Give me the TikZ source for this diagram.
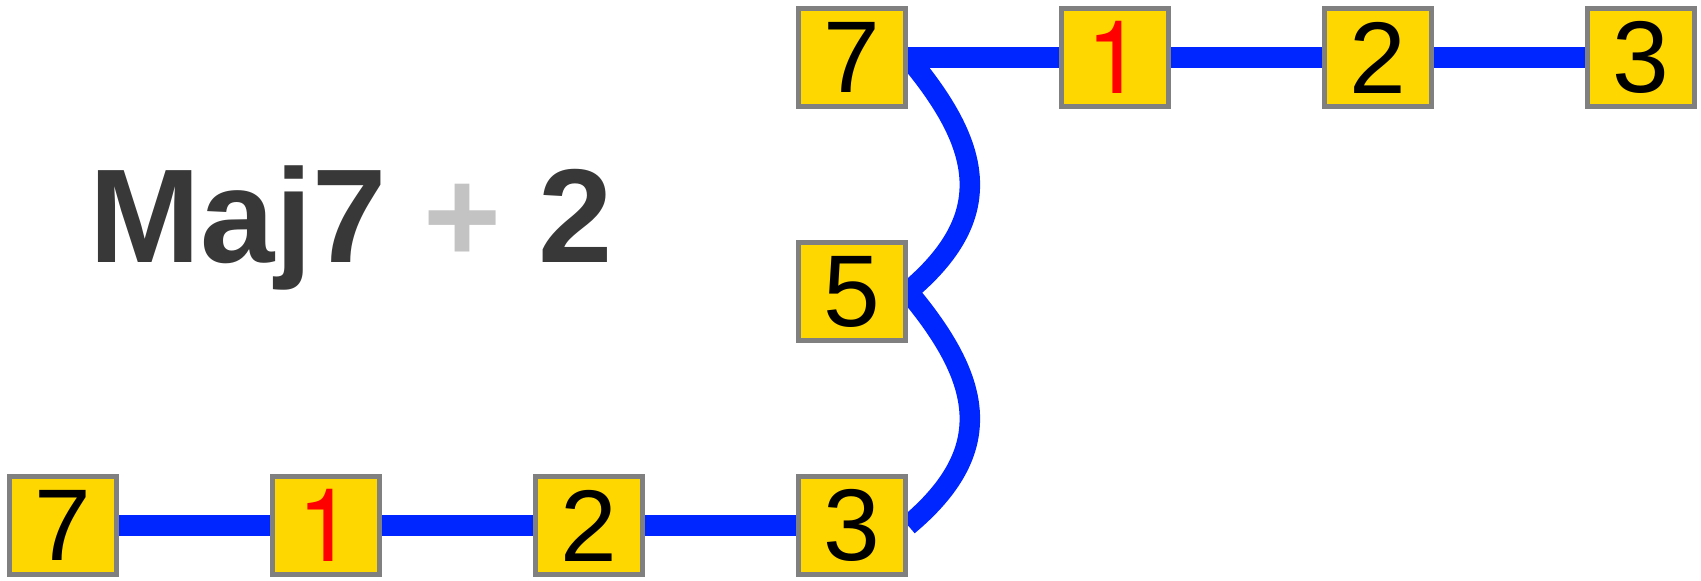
\documentclass[tikz,border=0pt]{standalone}
\usepackage{fontspec}
\setmainfont{Liberation Sans}
\newfontfamily\herosfont{TeX Gyre Heros}
\usepackage{xcolor}
\definecolor{chainBlue}{HTML}{0026FF}
\definecolor{boxGold}{HTML}{FFD700}
\definecolor{boxGray}{HTML}{808080}
\definecolor{titleGray}{HTML}{383838}
\definecolor{plusGray}{HTML}{C3C3C3}
\usepackage{tikz}
\usetikzlibrary{
  positioning,
  backgrounds
}
\tikzstyle{notebox}=[draw=boxGray, fill=boxGold, line width=0.05cm, minimum width=1.07cm, minimum height=0.98cm, inner sep=0pt, font=\fontsize{29}{29}\selectfont]
\tikzstyle{rootbox}=[notebox, text=red, font=\fontsize{29}{29}\selectfont\herosfont]
\tikzstyle{chain}=[chainBlue, line width=0.205cm, line join=round]

\begin{document}
\begin{tikzpicture}
      \def\gap{1.51cm};
      \def\ybot{-5.255};
      \def\ymid{-2.915};
      \def\ytop{-0.575};

      % 全体の大きさ
      \useasboundingbox (0,0) rectangle (17.01,-5.81);

      % タイトル
      \node[anchor=base west, inner sep=0pt, text=titleGray, font=\fontsize{38}{38}\selectfont\bfseries] (title) at (0.89,-2.63) {Maj7 \textcolor{plusGray}{+} 2};

      % 下の段
      \node[notebox] (B7) at (0.63,\ybot) {7};
      \node[rootbox, right=\gap of B7] (B1) {1};
      \node[notebox, right=\gap of B1] (B2) {2};
      \node[notebox, right=\gap of B2] (B3) {3};

      % 中央
      \node[notebox] (M5) at (B3 |- 0,\ymid) {5};

      % 上の段
      \node[notebox] (T7) at (B3 |- 0,\ytop) {7};
      \node[rootbox, right=\gap of T7] (T1) {1};
      \node[notebox, right=\gap of T1] (T2) {2};
      \node[notebox, right=\gap of T2] (T3) {3};

      % 箱をつなぐ線
      \begin{scope}[on background layer, yshift=-0.015cm]
        \draw[chain] (B7) -- (B1) -- (B2) -- (B3);
        \draw[chain] (T7) -- (T1) -- (T2) -- (T3);
      \end{scope}
      \begin{scope}[on background layer]
        \draw[chain] (B3) -- (B3.east) to[out=40, in=-50, looseness=1.28] (M5.east) -- (M5);
        \draw[chain] (M5) -- (M5.east) to[out=40, in=-50, looseness=1.28] (T7.east) -- (T7);
      \end{scope}
    \end{tikzpicture}
\end{document}
